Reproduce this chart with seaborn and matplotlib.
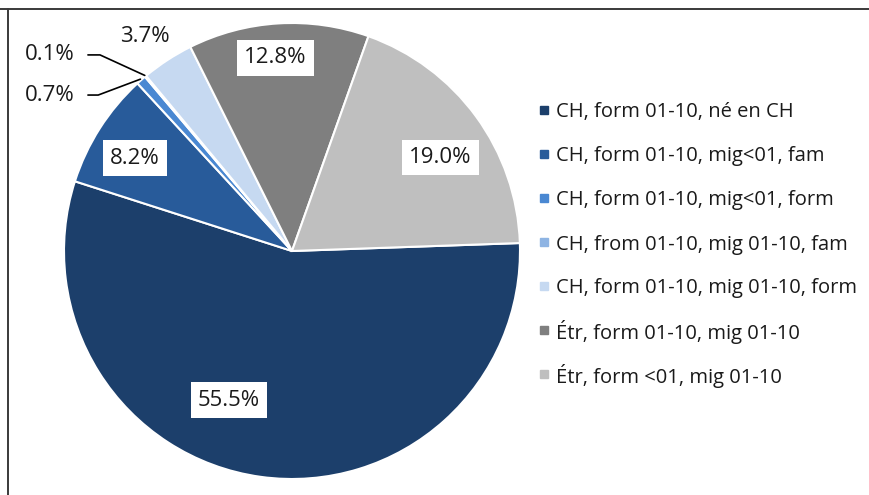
import numpy as np
import seaborn as sns
import matplotlib.pyplot as plt
from matplotlib.lines import Line2D

# categories et parts (%)
categories = ['CH, form 01-10, né en CH',
              'CH, form 01-10, mig<01, fam',
              'CH, form 01-10, mig<01, form',
              'CH, from 01-10, mig 01-10, fam',
              'CH, form 01-10, mig 01-10, form',
              'Étr, form 01-10, mig 01-10',
              'Étr, form <01, mig 01-10']
parts = [55.5, 8.2, 0.7, 0.1, 3.7, 12.8, 19.0]
couleurs = ['#1c3f6b', '#285b9a', '#4a88d2', '#8eb4e3', '#c6d9f1', '#7f7f7f', '#bfbfbf']

sns.set_theme(style='white')
plt.rcParams['font.family'] = ['Open Sans', 'DejaVu Sans']

fig = plt.figure(figsize=(8.69, 4.95), dpi=100)
W, H = 869, 495
R = 228
cx, cy = 292, 251
ax = fig.add_axes([(cx - 1.25 * R) / W, (H - cy - 1.05 * R) / H, 2.5 * R / W, 2.1 * R / H])

wedges, _ = ax.pie(parts, colors=couleurs, startangle=2.0, counterclock=False,
                   radius=1, wedgeprops=dict(edgecolor='white', linewidth=1.5))
ax.set_xlim(-1.25, 1.25)
ax.set_ylim(-1.05, 1.05)
ax.set_aspect('auto')
ax.axis('off')

# etiquettes : (distance radiale, decalage angulaire, boite blanche)
placement = {0: (0.71, -15, True), 1: (0.80, 2, True), 5: (0.85, 1.5, True),
             6: (0.77, -4, True), 4: (1.14, 1.4, False)}
for i, w in enumerate(wedges):
    mid = np.deg2rad((w.theta1 + w.theta2) / 2)
    txt = f'{parts[i]:.1f}%'
    if i in placement:
        r, d, boite = placement[i]
        a = mid + np.deg2rad(d)
        bb = dict(boxstyle='square,pad=0.33', fc='white', ec='none') if boite else None
        ax.text(r * np.cos(a), r * np.sin(a), txt, ha='center', va='center',
                fontsize=16, color='#1a1a1a', bbox=bb)
    else:
        # petites parts : etiquette a gauche avec ligne de rappel
        ex, ey = np.cos(mid), np.sin(mid)
        ty = 0.86 if parts[i] < 0.5 else 0.684
        coude = -0.842 if parts[i] < 0.5 else -0.85
        ax.plot([ex * 1.005, coude, -0.895], [ey * 1.005, ty, ty], color='black', lw=1.2,
                clip_on=False)
        ax.text(-1.061, ty, txt, ha='center', va='center', fontsize=16, color='#1a1a1a')

# legende faite a la main pour avoir un pas regulier (les accents de É decalent la legende auto)
for i, (cat, c) in enumerate(zip(categories, couleurs)):
    yy = 1 - (110 + 44 * i) / H
    fig.add_artist(Line2D([544 / W], [yy], marker='s', markersize=6, linestyle='none',
                          markerfacecolor=c, markeredgecolor=c))
    fig.text(556 / W, yy, cat, ha='left', va='center_baseline', fontsize=14.5, color='#1a1a1a')

# cadre (haut et gauche)
fig.add_artist(Line2D([0, 1], [1 - 9 / H, 1 - 9 / H], color='#3a3a3a', lw=1.4))
fig.add_artist(Line2D([8 / W, 8 / W], [0, 1 - 9 / H], color='#3a3a3a', lw=1.4))

fig.savefig('out.png', dpi=100, facecolor='white')
